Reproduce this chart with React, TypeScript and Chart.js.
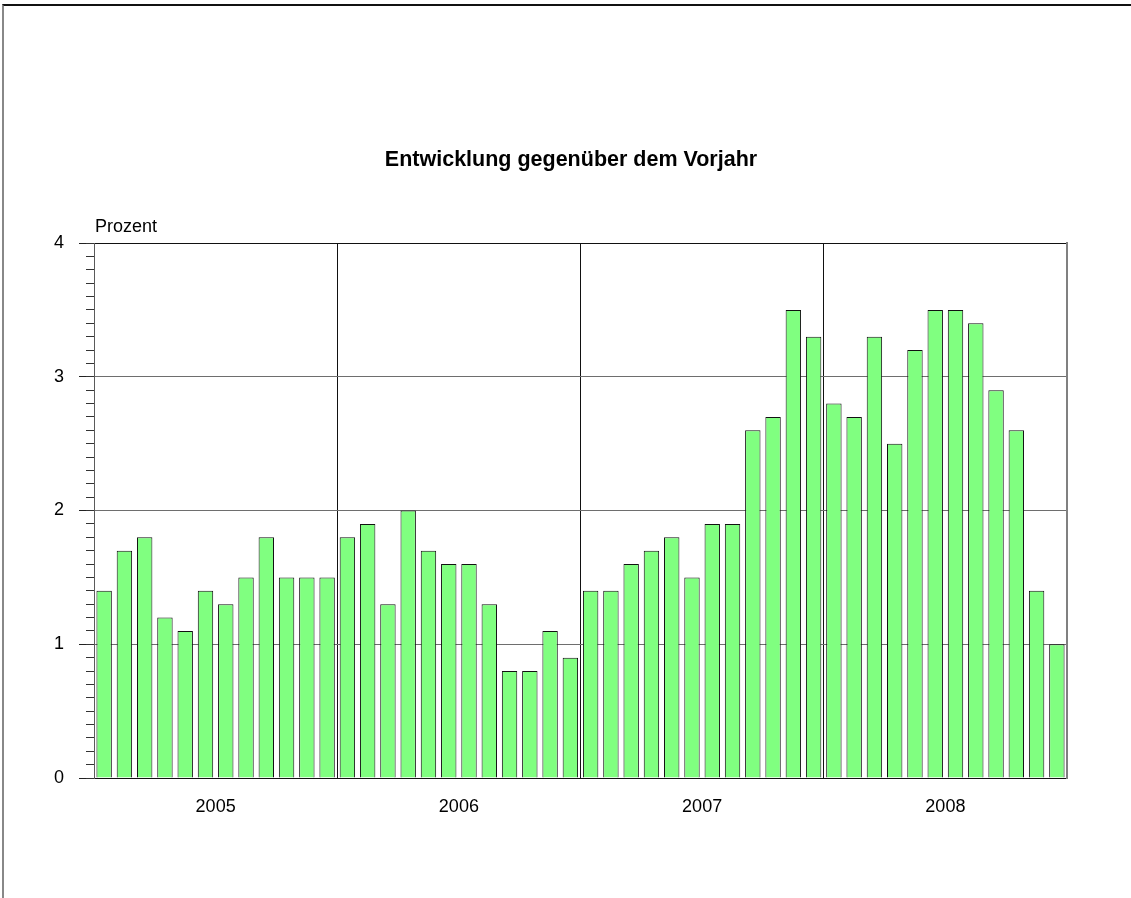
import React, { useEffect, useRef } from "react";
import { Chart, registerables } from "chart.js";

Chart.register(...registerables);

const titleText = "Entwicklung gegenüber dem Vorjahr";
const yAxisLabel = "Prozent";
const years = ["2005", "2006", "2007", "2008"];
const monthNames = ["Jan", "Feb", "Mär", "Apr", "Mai", "Jun", "Jul", "Aug", "Sep", "Okt", "Nov", "Dez"];
const categories = years.flatMap((y) => monthNames.map((m) => `${m} ${y}`));

const values2005 = [1.4, 1.7, 1.8, 1.2, 1.1, 1.4, 1.3, 1.5, 1.8, 1.5, 1.5, 1.5];
const values2006 = [1.8, 1.9, 1.3, 2.0, 1.7, 1.6, 1.6, 1.3, 0.8, 0.8, 1.1, 0.9];
const values2007 = [1.4, 1.4, 1.6, 1.7, 1.8, 1.5, 1.9, 1.9, 2.6, 2.7, 3.5, 3.3];
const values2008 = [2.8, 2.7, 3.3, 2.5, 3.2, 3.5, 3.5, 3.4, 2.9, 2.6, 1.4, 1.0];
const values = [...values2005, ...values2006, ...values2007, ...values2008];

const yMin = 0;
const yMax = 4;
const yMajorStep = 1;
const yMinorStep = 0.1;

const FONT = '"Liberation Sans", Arial, Helvetica, sans-serif';

const textPlugin = {
  id: "textPlugin",
  afterDraw(chart: any) {
    const { ctx, chartArea } = chart;
    ctx.save();
    ctx.fillStyle = "#000";
    ctx.textBaseline = "alphabetic";
    ctx.font = `bold 21.5px ${FONT}`;
    ctx.textAlign = "center";
    ctx.fillText(titleText, 571, 166);
    ctx.font = `18px ${FONT}`;
    ctx.textAlign = "left";
    ctx.fillText(yAxisLabel, chartArea.left + 1, chartArea.top - 11);
    ctx.restore();
  },
};

export default function App() {
  const canvasRef = useRef<HTMLCanvasElement | null>(null);

  useEffect(() => {
    if (!canvasRef.current) return;
    const chart = new Chart(canvasRef.current, {
      type: "bar",
      data: {
        labels: categories,
        datasets: [
          {
            data: values,
            backgroundColor: "#80FF80",
            borderColor: "#111",
            borderWidth: 1,
            categoryPercentage: 1,
            barPercentage: 0.76,
            xAxisID: "x",
            yAxisID: "y",
          },
        ],
      },
      options: {
        animation: false,
        responsive: false,
        layout: { padding: { top: 243, left: 0, right: 64, bottom: 0 } },
        plugins: {
          legend: { display: false },
          title: { display: false },
          tooltip: { enabled: false },
        },
        scales: {
          x: {
            type: "category",
            position: "bottom",
            offset: true,
            ticks: { display: false },
            grid: {
              offset: true,
              drawTicks: false,
              color: (ctx: any) =>
                ctx.index === 12 || ctx.index === 24 || ctx.index === 36 ? "#111" : "rgba(0,0,0,0)",
              lineWidth: 1,
            },
            border: { display: true, color: "#111", width: 1 },
            afterFit: (s: any) => {
              s.height = 0;
            },
          },
          x2: {
            type: "linear",
            position: "bottom",
            min: -0.5,
            max: 47.5,
            offset: false,
            afterBuildTicks: (s: any) => {
              s.ticks = years.map((_, i) => ({ value: i * 12 + 5.5 }));
            },
            ticks: {
              autoSkip: false,
              maxRotation: 0,
              padding: 10,
              color: "#000",
              font: { family: FONT, size: 18 },
              callback: (_v: any, i: number) => years[i],
            },
            grid: { display: false },
            border: { display: false },
            afterFit: (s: any) => {
              s.height = 120;
            },
          },
          y: {
            type: "linear",
            position: "left",
            min: yMin,
            max: yMax,
            weight: 1,
            ticks: {
              stepSize: yMajorStep,
              padding: 15,
              color: "#000",
              font: { family: FONT, size: 18 },
            },
            grid: {
              color: (ctx: any) =>
                ctx.tick && (ctx.tick.value === yMin || ctx.tick.value === yMax) ? "#111" : "#6e6e6e",
              tickColor: "#222",
              tickLength: 15,
              lineWidth: 1,
            },
            border: { display: true, color: "#5a5a5a", width: 1 },
            afterFit: (s: any) => {
              s.width = 94;
            },
          },
          yMinor: {
            type: "linear",
            position: "left",
            min: yMin,
            max: yMax,
            weight: 0,
            ticks: { display: false, stepSize: yMinorStep },
            grid: {
              drawOnChartArea: false,
              tickLength: 8,
              tickColor: "#333",
              color: "#333",
            },
            border: { display: false },
            afterFit: (s: any) => {
              s.width = 0;
            },
          },
          yRight: {
            type: "linear",
            position: "right",
            min: yMin,
            max: yMax,
            ticks: { display: false },
            grid: { display: false },
            border: { display: true, color: "#808080", width: 2 },
            afterFit: (s: any) => {
              s.width = 0;
            },
          },
        },
      },
      plugins: [textPlugin],
    } as any);
    return () => chart.destroy();
  }, []);

  return (
    <div style={{ position: "fixed", left: 0, top: 0, width: 1131, height: 898, background: "#fff" }}>
      <canvas ref={canvasRef} width={1131} height={898} style={{ position: "absolute", left: 0, top: 0 }} />
      <div
        style={{
          position: "absolute",
          left: 2,
          top: 4,
          right: 0,
          bottom: 0,
          borderTop: "2px solid #111",
          borderLeft: "2px solid #888",
          pointerEvents: "none",
        }}
      />
    </div>
  );
}
